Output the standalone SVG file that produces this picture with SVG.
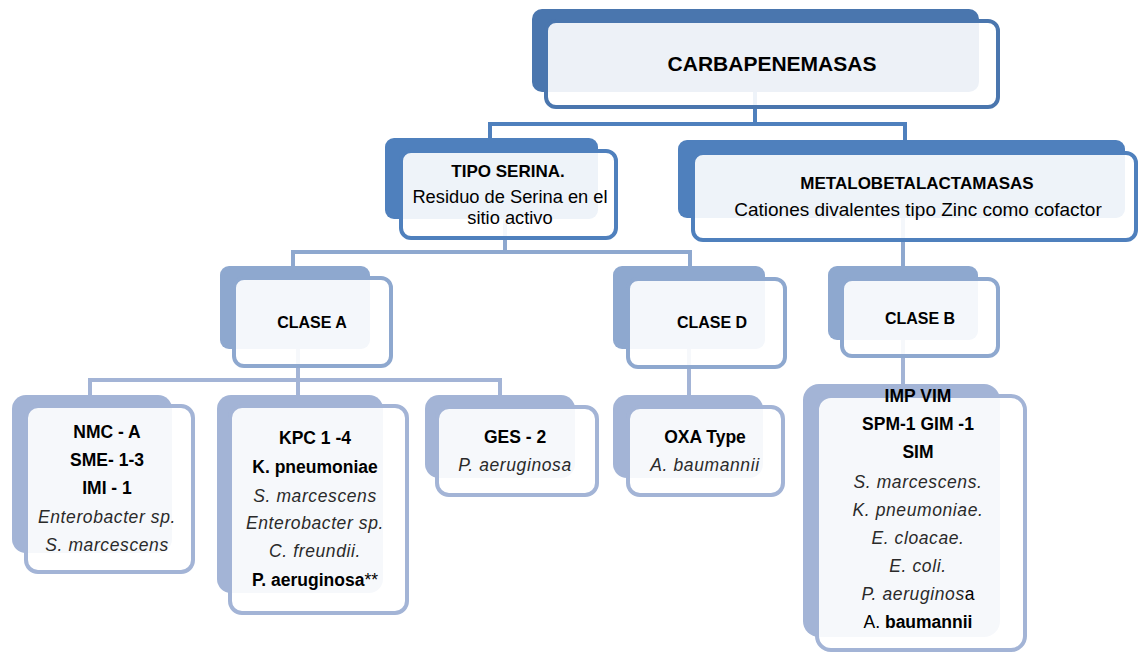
<svg xmlns="http://www.w3.org/2000/svg" width="1138" height="652" viewBox="0 0 1138 652">
<style>
text{font-family:"Liberation Sans",Arial,sans-serif;fill:#000;text-anchor:middle}
.b{font-weight:bold}
.i{font-style:italic;fill:#2a2a2a;letter-spacing:0.6px}
.t1{font-size:21px;font-weight:bold}
.t2{font-size:17px}
.t3{font-size:16px;font-weight:bold}
.t4{font-size:17.5px}
.front{fill:#fff;fill-opacity:0.9;stroke-width:4}
.l1b{fill:#4A76AE}.l1f{stroke:#4A76AE}
.l2b{fill:#4F80BD}.l2f{stroke:#4F80BD}
.l3b{fill:#8EA8CF}.l3f{stroke:#8EA8CF}
.l4b{fill:#A3B4D6}.l4f{stroke:#A3B4D6}
.c{fill:none;stroke-width:4}
</style>
<rect width="1138" height="652" fill="#fff"/>
<g id="connectors">
<path class="c" stroke="#4F80BD" d="M490,140 V124 H905 V140 M755,92 V124"/>
<path class="c" stroke="#8EA8CF" d="M293,266 V252 H690 V266 M505,219 V252 M903,218 V266"/>
<path class="c" stroke="#A3B4D6" d="M90,395 V380 H500 V395 M298,349 V395 M689,349 V395 M903,340 V384"/>
</g>
<g id="carbapenemasas">
<rect class="l1b" x="532" y="9" width="447" height="83" rx="10"/>
<rect class="front l1f" x="546" y="21" width="452" height="86" rx="10"/>
<text class="t1" x="772" y="71">CARBAPENEMASAS</text>
</g>
<g id="tipo-serina">
<rect class="l2b" x="385" y="138" width="213" height="81" rx="9"/>
<rect class="front l2f" x="401" y="151" width="215" height="87" rx="10"/>
<text class="t2 b" x="508" y="177">TIPO SERINA.</text>
<text class="t2" x="510" y="203" style="font-size:18.3px">Residuo de Serina en el</text>
<text class="t2" x="510" y="224" style="font-size:18.3px">sitio activo</text>
</g>
<g id="metalo">
<rect class="l2b" x="678" y="140" width="447" height="78" rx="9"/>
<rect class="front l2f" x="693" y="153" width="443" height="87" rx="10"/>
<text class="t2 b" x="917" y="189">METALOBETALACTAMASAS</text>
<text class="t2" x="918" y="216" style="font-size:19px">Cationes divalentes tipo Zinc como cofactor</text>
</g>
<g id="clase-a">
<rect class="l3b" x="220" y="266" width="150" height="83" rx="9"/>
<rect class="front l3f" x="234" y="278" width="157" height="88" rx="10"/>
<text class="t3" x="312" y="328">CLASE A</text>
</g>
<g id="clase-d">
<rect class="l3b" x="613" y="266" width="152" height="83" rx="9"/>
<rect class="front l3f" x="628" y="279" width="157" height="88" rx="10"/>
<text class="t3" x="712" y="328">CLASE D</text>
</g>
<g id="clase-b">
<rect class="l3b" x="828" y="266" width="150" height="74" rx="9"/>
<rect class="front l3f" x="842" y="279" width="156" height="77" rx="10"/>
<text class="t3" x="920" y="324">CLASE B</text>
</g>
<g id="nmc">
<rect class="l4b" x="12" y="395" width="160" height="158" rx="14"/>
<rect class="front l4f" x="26" y="406" width="167" height="166" rx="12"/>
<text class="t4 b" x="107" y="438">NMC - A</text>
<text class="t4 b" x="107" y="466">SME- 1-3</text>
<text class="t4 b" x="107" y="494">IMI - 1</text>
<text class="t4 i" x="107" y="523">Enterobacter sp.</text>
<text class="t4 i" x="107" y="551">S. marcescens</text>
</g>
<g id="kpc">
<rect class="l4b" x="217" y="395" width="166" height="198" rx="14"/>
<rect class="front l4f" x="230" y="406" width="177" height="207" rx="12"/>
<text class="t4 b" x="315" y="444">KPC 1 -4</text>
<text class="t4 b" x="315" y="473">K. pneumoniae</text>
<text class="t4 i" x="315" y="502">S. marcescens</text>
<text class="t4 i" x="315" y="529">Enterobacter sp.</text>
<text class="t4 i" x="315" y="557">C. freundii.</text>
<text class="t4" x="315" y="586"><tspan class="b">P. aeruginosa</tspan>**</text>
</g>
<g id="ges">
<rect class="l4b" x="425" y="395" width="150" height="83" rx="14"/>
<rect class="front l4f" x="437" y="407" width="160" height="88" rx="12"/>
<text class="t4 b" x="515" y="443">GES - 2</text>
<text class="t4 i" x="515" y="471">P. aeruginosa</text>
</g>
<g id="oxa">
<rect class="l4b" x="613" y="395" width="150" height="83" rx="14"/>
<rect class="front l4f" x="628" y="407" width="155" height="88" rx="12"/>
<text class="t4 b" x="705" y="443">OXA Type</text>
<text class="t4 i" x="705" y="471">A. baumannii</text>
</g>
<g id="imp">
<rect class="l4b" x="803" y="384" width="197" height="253" rx="16"/>
<rect class="front l4f" x="817" y="396" width="208" height="254" rx="14"/>
<text class="t4 b" x="918" y="402">IMP VIM</text>
<text class="t4 b" x="918" y="430">SPM-1 GIM -1</text>
<text class="t4 b" x="918" y="458">SIM</text>
<text class="t4 i" x="918" y="488">S. marcescens.</text>
<text class="t4 i" x="918" y="516">K. pneumoniae.</text>
<text class="t4 i" x="918" y="544">E. cloacae.</text>
<text class="t4 i" x="918" y="572">E. coli.</text>
<text class="t4" x="918" y="600"><tspan class="i">P. aeruginos</tspan>a</text>
<text class="t4" x="918" y="628">A. <tspan class="b">baumannii</tspan></text>
</g>
</svg>
